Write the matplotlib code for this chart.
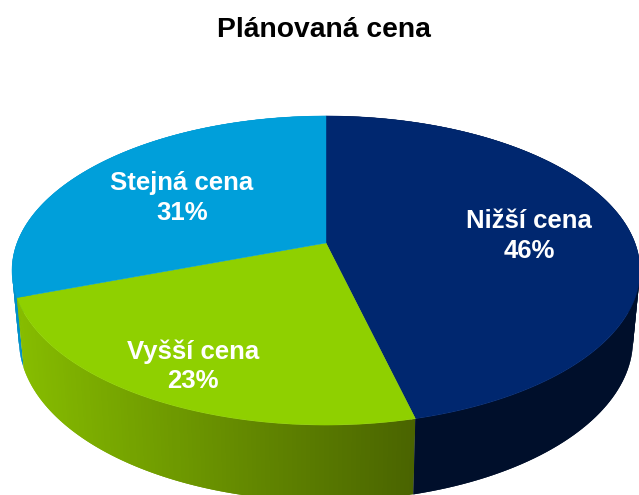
import numpy as np
import matplotlib
matplotlib.use("Agg")
import matplotlib.pyplot as plt
from matplotlib.colors import to_rgb
from matplotlib.patches import Polygon

title = "Plánovaná cena"
categories = ["Nižší cena", "Vyšší cena", "Stejná cena"]
values = [46.2, 23.3, 30.6]
top_colors = ["#00276F", "#8FD000", "#009FDA"]
side_left = ["#00102E", "#86BC00", "#0090C8"]
side_right = ["#000F2B", "#4A6400", "#0090C8"]
label_xy = [(529, 236), (193, 366), (182, 198)]

W, H = 639, 495
cx, cy_apex = 326, 243
k, b, s = 0.178, -106.4, 309
ell_cy, ell_ry = 270.5, 154.5
low_cy, low_rx, low_ry = 340, 307, 161
top_rx = 314


def top_point(theta):
    u, v = np.sin(theta), np.cos(theta)
    d = 1 + k * v
    return cx + s * u / d, (cy_apex + b * v) / d


def low_point(theta):
    x, y = top_point(theta)
    return cx + (x - cx) / top_rx * low_rx, low_cy + (y - ell_cy) / ell_ry * low_ry


plt.rcParams["font.family"] = ["Liberation Sans", "DejaVu Sans"]
fig = plt.figure(figsize=(W / 100, H / 100), dpi=100)
ax = fig.add_axes([0, 0, 1, 1])
ax.set_xlim(0, W)
ax.set_ylim(H, 0)
ax.axis("off")

edges = np.cumsum([0] + values) / sum(values) * 2 * np.pi

# Side wall first; strips overlap their neighbours so no seams show
for i in [2, 0, 1]:
    t = np.linspace(edges[i], edges[i + 1], 120)
    c0, c1 = np.array(to_rgb(side_left[i])), np.array(to_rgb(side_right[i]))
    tx, ty = top_point(t)
    lx, ly = low_point(t)
    for j in range(len(t) - 1):
        f = np.clip((tx[j] - 20) / (415 - 20), 0, 1)
        col = c0 + (c1 - c0) * f
        jj = min(j + 2, len(t) - 1)
        pts = [(tx[j], ty[j]), (tx[jj], ty[jj]), (lx[jj], ly[jj]), (lx[j], ly[j])]
        ax.add_patch(Polygon(pts, closed=True, fc=col, ec="none", lw=0, zorder=2 + j * 1e-4))

# Top faces
for i in range(len(values)):
    t = np.linspace(edges[i], edges[i + 1], 240)
    tx, ty = top_point(t)
    pts = [(cx, cy_apex)] + list(zip(tx, ty))
    ax.add_patch(Polygon(pts, closed=True, fc=top_colors[i], ec=top_colors[i], lw=0.3, zorder=3))

for name, val, (x, y) in zip(categories, values, label_xy):
    ax.text(x, y, f"{name}\n{val:.0f}%", color="white", fontsize=18.5, fontweight="bold",
            ha="center", va="center", linespacing=1.27, zorder=5)

ax.text(324, 30, title, color="black", fontsize=20.3, fontweight="bold", ha="center", va="center")

fig.savefig("out.png", dpi=100)
